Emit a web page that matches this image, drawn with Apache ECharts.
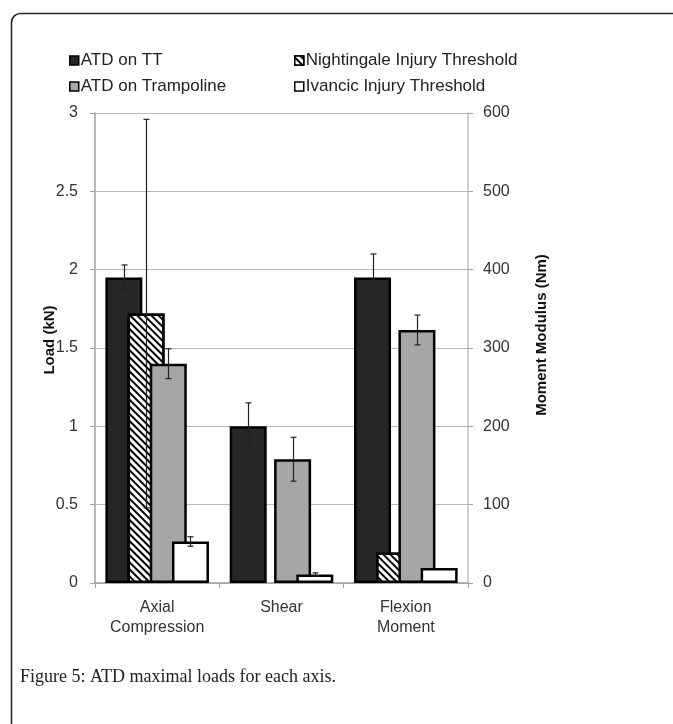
<!DOCTYPE html>
<html>
<head>
<meta charset="utf-8">
<script src="https://cdn.jsdelivr.net/npm/echarts@6/dist/echarts.min.js"></script>
<style>
html,body{margin:0;padding:0;background:#fff;}
#chart{width:673px;height:724px;}
</style>
</head>
<body>
<div id="chart"></div>
<script>
// ---- data (Axial & Shear in kN, Flexion Moment in Nm) ----
const categories = ['Axial\nCompression', 'Shear', 'Flexion\nMoment'];
const seriesNames = ['ATD on TT', 'Nightingale Injury Threshold', 'ATD on Trampoline', 'Ivancic Injury Threshold'];
const atdTT = [1.95, 1.00, 390];
const atdTTErr = [0.08, 0.15, 30];
const nightingale = [1.72, null, 39];
const nightingaleErr = [1.24, null, null];
const atdTrampoline = [1.40, 0.79, 323];
const atdTrampolineErr = [0.095, 0.14, 19];
const ivancic = [0.265, 0.055, 19];
const ivancicErr = [0.03, 0.01, null];
const leftTicks = [0, 0.5, 1, 1.5, 2, 2.5, 3];
const rightTicks = [0, 100, 200, 300, 400, 500, 600];
const momentIndex = 2; // category measured in Nm (right axis)
const NM_PER_KN_AXIS = rightTicks[rightTicks.length - 1] / leftTicks[leftTicks.length - 1];

const allValues = [atdTT, nightingale, atdTrampoline, ivancic];
const allErrors = [atdTTErr, nightingaleErr, atdTrampolineErr, ivancicErr];

function toLeft(arr) {
  return arr.map((v, i) => v == null ? '-' : (i === momentIndex ? v / NM_PER_KN_AXIS : v));
}

const BAR_W = 37;
const GAP = -0.4;
const FONT = '"Liberation Sans", Arial, sans-serif';

const errData = [];
allValues.forEach((vals, si) => {
  vals.forEach((v, ci) => {
    const e = allErrors[si][ci];
    if (v == null || e == null) return;
    const k = ci === momentIndex ? NM_PER_KN_AXIS : 1;
    errData.push([ci, (v + e) / k, (v - e) / k, si]);
  });
});

const hatch = {
  symbol: 'rect', symbolSize: 1, color: '#000', backgroundColor: '#fff',
  dashArrayX: [1, 0], dashArrayY: [2, 3], rotation: Math.PI / 4
};
const fills = ['#262626', '#ffffff', '#a6a6a6', '#ffffff'];

const barSeries = allValues.map((vals, si) => ({
  name: seriesNames[si],
  type: 'bar',
  data: toLeft(vals),
  barWidth: BAR_W,
  barGap: (GAP * 100) + '%',
  itemStyle: Object.assign({ color: fills[si], borderColor: '#000', borderWidth: 2.5 },
    si === 1 ? { decal: hatch } : {}),
  emphasis: { disabled: true },
  animation: false
}));

const legendCommon = {
  orient: 'vertical', top: 47,
  itemWidth: 9, itemHeight: 9, itemGap: 9, icon: 'rect', selectedMode: false,
  itemStyle: { borderColor: '#000', borderWidth: 1.5 },
  textStyle: { fontFamily: FONT, fontSize: 17, color: '#222', padding: [0, 0, 0, -3] }
};

const chart = echarts.init(document.getElementById('chart'), null, { renderer: 'canvas' });
chart.setOption({
  animation: false,
  backgroundColor: '#fff',
  grid: { left: 95, right: 205, top: 113, bottom: 141 },
  legend: [
    Object.assign({ data: [seriesNames[0], seriesNames[2]], left: 64 }, legendCommon),
    Object.assign({ data: [seriesNames[1], seriesNames[3]], left: 289 }, legendCommon)
  ],
  xAxis: {
    type: 'category', data: categories,
    axisLine: { lineStyle: { color: '#a0a0a0', width: 1.5 } },
    axisTick: { show: true, length: 5, lineStyle: { color: '#a0a0a0' } },
    axisLabel: { fontFamily: FONT, fontSize: 16, color: '#333', lineHeight: 20, margin: 15 }
  },
  yAxis: [
    {
      type: 'value', min: leftTicks[0], max: leftTicks[leftTicks.length - 1], interval: leftTicks[1] - leftTicks[0],
      axisLine: { show: true, lineStyle: { color: '#a0a0a0', width: 1.5 } },
      axisTick: { show: true, length: 5, lineStyle: { color: '#a0a0a0' } },
      splitLine: { show: true, lineStyle: { color: '#b8b8b8', width: 1.2 } },
      axisLabel: { fontFamily: FONT, fontSize: 16, color: '#333', margin: 17 }
    },
    {
      type: 'value', position: 'right', min: rightTicks[0], max: rightTicks[rightTicks.length - 1], interval: rightTicks[1] - rightTicks[0],
      axisLine: { show: true, lineStyle: { color: '#c0c0c0', width: 1.5 } },
      axisTick: { show: true, length: 5, lineStyle: { color: '#a0a0a0' } },
      splitLine: { show: false },
      axisLabel: { fontFamily: FONT, fontSize: 16, color: '#333', margin: 15 }
    }
  ],
  series: barSeries.concat([{
    type: 'custom',
    name: 'errors',
    data: errData,
    z: 10,
    clip: false,
    silent: true,
    encode: { x: 0, y: [1, 2] },
    renderItem: function (params, api) {
      const ci = api.value(0), hi = api.value(1), lo = api.value(2), si = api.value(3);
      const pHi = api.coord([ci, hi]);
      const pLo = api.coord([ci, lo]);
      const step = BAR_W * (1 + GAP);
      const total = BAR_W + 3 * step;
      const x = Math.round(pHi[0] - total / 2 + si * step + BAR_W / 2) + 0.5;
      const cap = 3;
      const st = { stroke: '#222', lineWidth: 1.2 };
      return {
        type: 'group',
        children: [
          { type: 'line', shape: { x1: x, y1: pHi[1], x2: x, y2: pLo[1] }, style: st },
          { type: 'line', shape: { x1: x - cap, y1: pHi[1], x2: x + cap, y2: pHi[1] }, style: st },
          { type: 'line', shape: { x1: x - cap, y1: pLo[1], x2: x + cap, y2: pLo[1] }, style: st }
        ]
      };
    }
  }]),
  graphic: [
    {
      type: 'rect', left: 9, top: 11, silent: true,
      shape: { width: 720, height: 760, r: 9 },
      style: { fill: 'none', stroke: '#222', lineWidth: 1.5 }
    },
    {
      type: 'text', x: 50, y: 340, rotation: Math.PI / 2,
      style: { text: 'Load (kN)', font: 'bold 15px ' + FONT, fill: '#111', textAlign: 'center', textVerticalAlign: 'middle' }
    },
    {
      type: 'text', x: 542, y: 335, rotation: Math.PI / 2,
      style: { text: 'Moment Modulus (Nm)', font: 'bold 15px ' + FONT, fill: '#111', textAlign: 'center', textVerticalAlign: 'middle' }
    },
    {
      type: 'text', x: 20, y: 677,
      style: { text: 'Figure 5: ATD maximal loads for each axis.', font: '18px "Liberation Serif", "Times New Roman", serif', fill: '#222', textAlign: 'left', textVerticalAlign: 'middle' }
    }
  ]
});
</script>
</body>
</html>
